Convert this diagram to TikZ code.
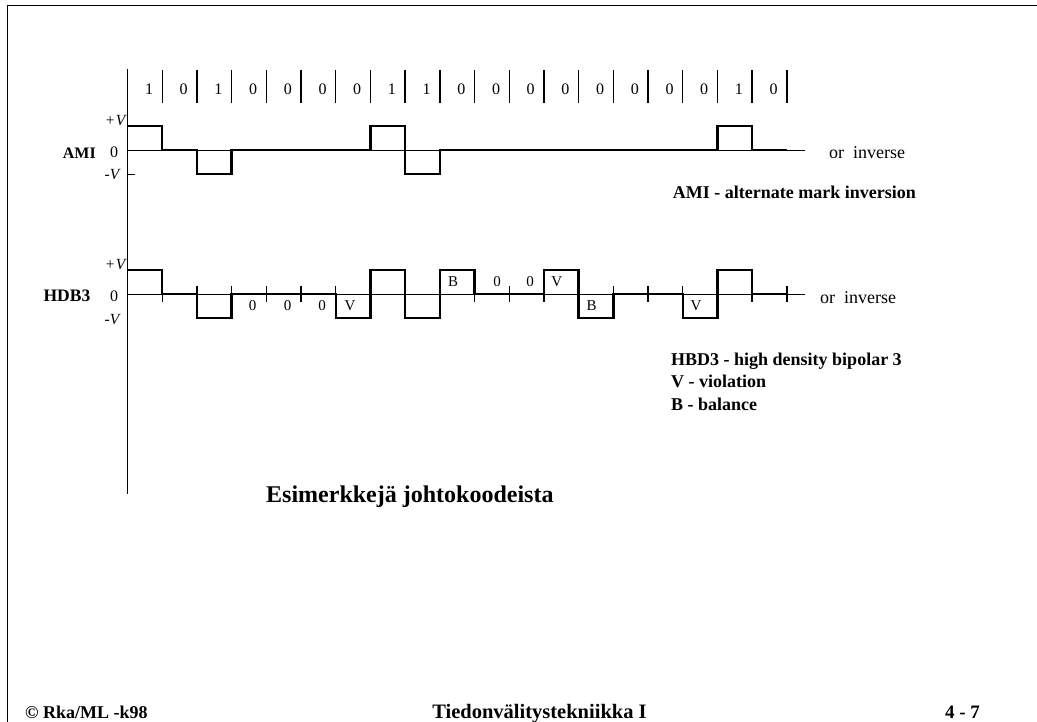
\documentclass[tikz,border=0pt]{standalone}
\usepackage{fontspec}
\setmainfont{Liberation Serif}
\begin{document}
\begin{tikzpicture}[x=1pt,y=-1pt,
  wave/.style={line width=2.4pt,line join=miter},
  thin/.style={line width=0.9pt},
  sep/.style={line width=1.4pt},
  lbl/.style={inner sep=0pt,anchor=base,font=\fontsize{16}{18}\selectfont},
  wl/.style={inner sep=0pt,anchor=base,font=\fontsize{15}{18}\selectfont},
  blbl/.style={inner sep=0pt,anchor=base east,font=\fontsize{16}{18}\selectfont\bfseries},
  ilbl/.style={inner sep=0pt,anchor=base east,font=\fontsize{15.5}{18}\selectfont\itshape},
  inv/.style={inner sep=0pt,anchor=base west,font=\fontsize{18}{20}\selectfont},
  desc/.style={inner sep=0pt,anchor=base west,font=\fontsize{18}{20}\selectfont\bfseries},
  foot/.style={inner sep=0pt,font=\fontsize{19}{22}\selectfont\bfseries}]
\useasboundingbox (0,0) rectangle (1037,722);
% frame
\draw[line width=1pt] (7,722) -- (7,6) -- (1037,6);
% axis
\draw[thin] (127.5,69) -- (127.5,494);
% bit separators and labels
\foreach \b [count=\i from 0] in {1,0,1,0,0,0,0,1,1,0,0,0,0,0,0,0,0,1,0}{
  \pgfmathsetmacro{\xr}{127.5+34.7*(\i+1)}
  \pgfmathsetmacro{\xc}{127.5+34.7*\i+21.5}
  \draw[sep] (\xr,70) -- (\xr,103);
  \node[lbl] (bit\i) at (\xc,94.3) {\b};
}
% AMI
\draw[thin] (127.5,150) -- (805,150);
\draw[thin] (127.5,174) -- (134.5,174);
\draw[wave] (127.5,126) -- (162.2,126) -- (162.2,150) -- (196.9,150) -- (196.9,174) -- (231.6,174) -- (231.6,150) -- (370.4,150) -- (370.4,126) -- (405.1,126) -- (405.1,174) -- (439.8,174) -- (439.8,150) -- (717.4,150) -- (717.4,126) -- (752.1,126) -- (752.1,150) -- (786.8,150);
\node[ilbl] (amiP) at (125.5,125.5) {+\kern0.5pt V};
\node[lbl] (amiZ) at (114,158) {0};
\node[ilbl] (amiM) at (119.5,180) {-V};
\node[blbl] (ami) at (96,158.3) {AMI};
\node[inv] (amiinv) at (829,158.3) {or\ \ inverse};
\node[desc,anchor=base east] (amidesc) at (916,198.3) {AMI - alternate mark inversion};
% HDB3
\draw[thin] (127.5,294) -- (805,294);
\foreach \i in {1,...,19}{
  \pgfmathsetmacro{\xr}{127.5+34.7*\i}
  \draw[sep] (\xr,286) -- (\xr,302);
}
\draw[wave] (127.5,270) -- (162.2,270) -- (162.2,294) -- (196.9,294) -- (196.9,318) -- (231.6,318) -- (231.6,294) -- (335.7,294) -- (335.7,318) -- (370.4,318) -- (370.4,270) -- (405.1,270) -- (405.1,318) -- (439.8,318) -- (439.8,270) -- (474.5,270) -- (474.5,294) -- (543.9,294) -- (543.9,270) -- (578.6,270) -- (578.6,318) -- (613.3,318) -- (613.3,294) -- (682.7,294) -- (682.7,318) -- (717.4,318) -- (717.4,270) -- (752.1,270) -- (752.1,294) -- (786.8,294);
\node[ilbl] (hdbP) at (125.5,269.3) {+\kern0.5pt V};
\node[lbl] (hdbZ) at (114,301.7) {0};
\node[ilbl] (hdbM) at (119.5,324) {-V};
\node[blbl,font=\fontsize{17.5}{20}\selectfont\bfseries] (hdb) at (90.5,301.7) {HDB3};
\node[inv] (hdbinv) at (820,303.3) {or\ \ inverse};
\node[wl] (z3) at (252.7,311) {0};
\node[wl] (z4) at (287.7,311) {0};
\node[wl] (z5) at (322,311) {0};
\node[wl] (v6) at (350,311) {V};
\node[wl] (b9) at (453,287) {B};
\node[wl] (z10) at (497,287) {0};
\node[wl] (z11) at (530,287) {0};
\node[wl] (v12) at (556.7,287) {V};
\node[wl] (b13) at (591.7,311) {B};
\node[wl] (v16) at (696,311) {V};
\node[desc] (hdbdesc) at (671,365) {HBD3 - high density bipolar 3};
\node[desc] (vdesc) at (671,388) {V - violation};
\node[desc] (bdesc) at (671,410) {B - balance};
% title
\node[inner sep=0pt,anchor=base west,font=\fontsize{24}{28}\selectfont\bfseries] (title) at (266,502.7) {Esimerkkejä johtokoodeista};
% footer
\node[foot,anchor=base west,font=\fontsize{18}{22}\selectfont\bfseries] (f1) at (25,718.5) {© Rka/ML -k98};
\node[foot,anchor=base,font=\fontsize{20.5}{24}\selectfont\bfseries] (f2) at (539.5,718.5) {Tiedonvälitystekniikka I};
\node[foot,anchor=base] (f3) at (962.5,718.5) {4 - 7};
\end{tikzpicture}
\end{document}
